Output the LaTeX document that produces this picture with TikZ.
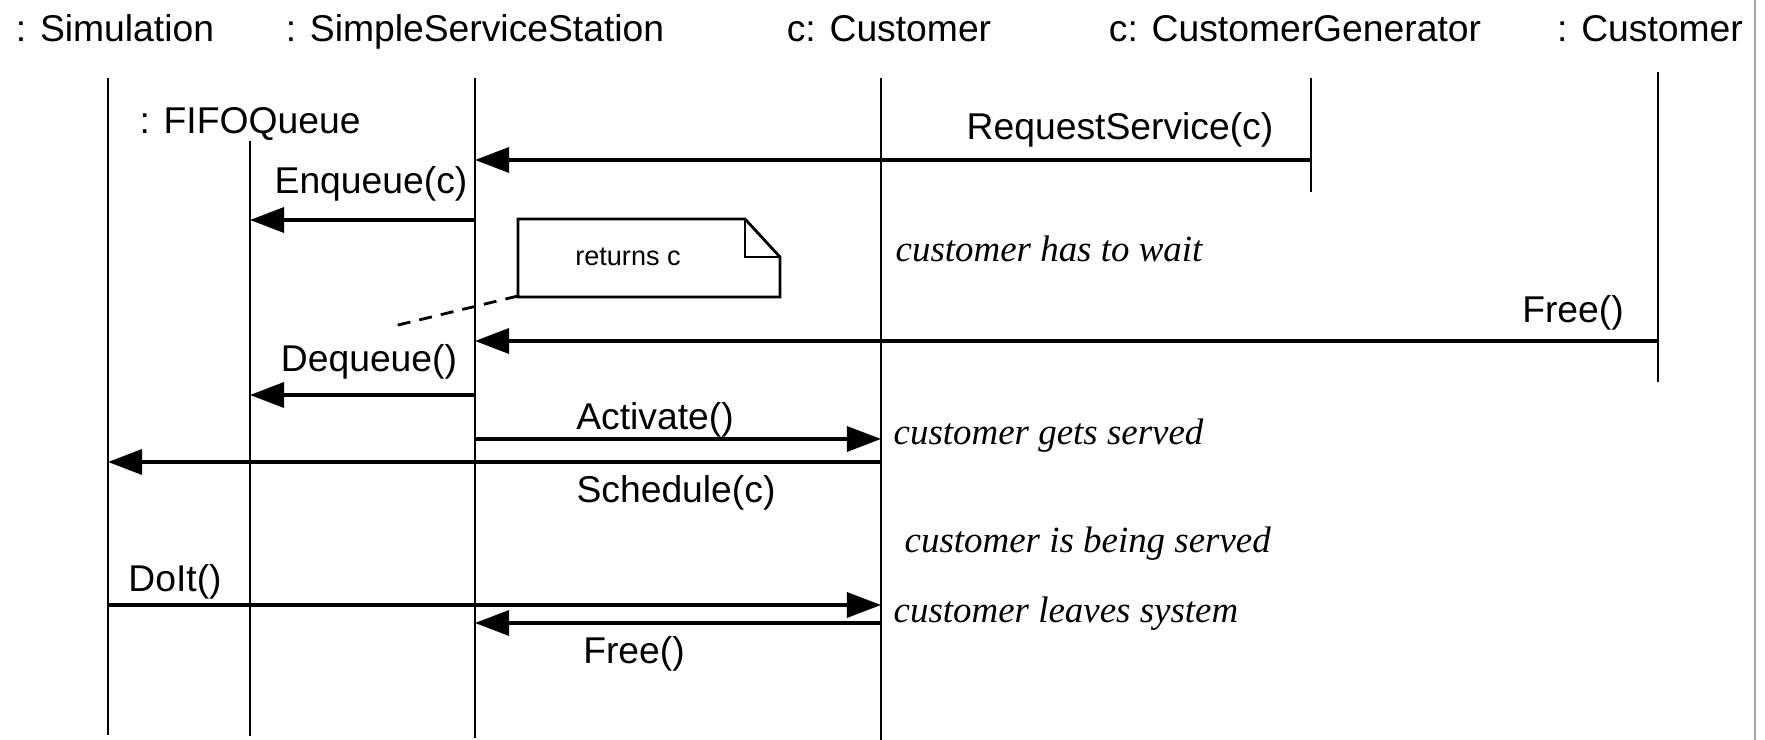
\documentclass[tikz,border=0pt]{standalone}
\usepackage{fontspec}
\setmainfont{Liberation Sans}
\newfontfamily\remarkfont{Liberation Serif}
\usetikzlibrary{arrows.meta}

\begin{document}
\begin{tikzpicture}[
  x=0.01cm,y=-0.01cm,
  lifeline/.style={draw=black,line width=.75pt},
  msg/.style={-{Triangle[length=.34cm,width=.25cm]},draw=black,line width=.95pt},
  obj/.style={font=\fontsize{10.6}{12}\selectfont,inner sep=0pt,anchor=base},
  call/.style={font=\fontsize{10.6}{12}\selectfont,inner sep=0pt,anchor=base},
  remark/.style={font=\remarkfont\itshape\fontsize{10.5}{12}\selectfont,
    inner sep=0pt,anchor=base west},
  memo/.style={draw=black,line width=.8pt,line join=miter},
  memotext/.style={font=\fontsize{7.7}{9}\selectfont,inner sep=0pt,anchor=base}
]
  \useasboundingbox (0,0) rectangle (1765,740);
  \draw[black!35,line width=.6pt] (1755,0) -- (1755,740);

  % object heads
  \node[obj] (simHead) at (115,42) {: Simulation};
  \node[obj] (stationHead) at (475,42) {: SimpleServiceStation};
  \node[obj] (custHead) at (889,42) {c: Customer};
  \node[obj] (genHead) at (1295,42) {c: CustomerGenerator};
  \node[obj] (otherHead) at (1650,42) {: Customer};
  \node[obj] (queueHead) at (250,134) {: FIFOQueue};

  % lifelines
  \foreach \n/\x/\top/\bot in {sim/108/78/735,queue/250/141/736,station/475/78/738,
      cust/881/78/740,gen/1311/78/192,other/1658/72/382}{
    \coordinate (\n) at (\x,\top);
    \coordinate (\n-end) at (\x,\bot);
    \draw[lifeline] (\n) -- (\n-end);
  }

  % messages
  \foreach \from/\to/\y in {gen/station/160,station/queue/220,other/station/341,
      station/queue/395,station/cust/439,cust/sim/462,sim/cust/605,cust/station/623}
    \draw[msg] (\from |- 0,\y) -- (\to |- 0,\y);

  \node[call] (requestLbl) at (1120,140) {RequestService(c)};
  \node[call] (enqueueLbl) at (371,194) {Enqueue(c)};
  \node[call] (freeLbl) at (1573,323) {Free()};
  \node[call] (dequeueLbl) at (369,372) {Dequeue()};
  \node[call] (activateLbl) at (655,430) {Activate()};
  \node[call] (scheduleLbl) at (676,503) {Schedule(c)};
  \node[call] (doitLbl) at (175,592) {DoIt()};
  \node[call] (freeTwoLbl) at (634,664) {Free()};

  % note
  \draw[memo] (518,219) -- (745,219) -- (780,257) -- (780,297)
    -- (518,297) -- cycle;
  \draw[memo] (745,219) -- (745,257) -- (780,257);
  \node[memotext] (memo) at (628,266) {returns c};
  \coordinate (memoCorner) at (518,296);
  \coordinate (memoEnd) at (394,326);
  \draw[line width=.8pt,dash pattern=on 3.7pt off 2.6pt] (memoCorner) -- (memoEnd);

  % remarks
  \node[remark] (waitRmk) at (895,262) {customer has to wait};
  \node[remark] (servedRmk) at (893,445) {customer gets served};
  \node[remark] (beingRmk) at (904,553) {customer is being served};
  \node[remark] (leaveRmk) at (893,623) {customer leaves system};
\end{tikzpicture}
\end{document}
